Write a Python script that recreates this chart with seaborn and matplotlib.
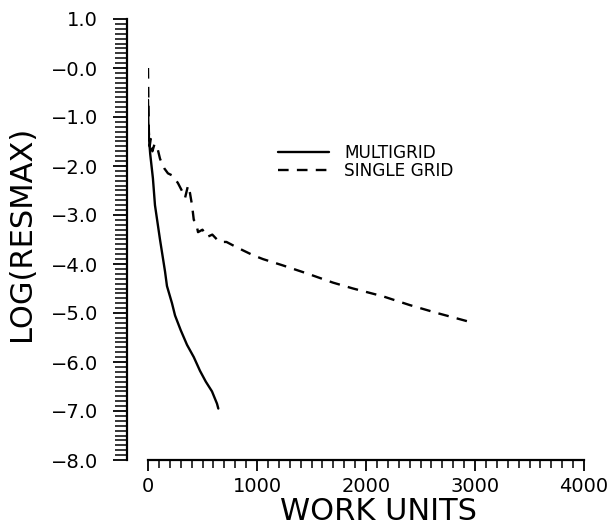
import numpy as np
import pandas as pd
import matplotlib
matplotlib.use("Agg")
import matplotlib.pyplot as plt
from matplotlib.ticker import MultipleLocator
import seaborn as sns

# ---- data ----
mg_work = [0, 3, 8, 20, 45, 64, 110, 156, 174, 220, 248, 300, 358, 420, 477, 530, 587, 633, 645]
mg_log = [-0.65, -1.1, -1.4, -1.75, -2.25, -2.8, -3.5, -4.15, -4.45, -4.8, -5.05, -5.35,
          -5.65, -5.9, -6.18, -6.4, -6.6, -6.85, -6.95]

sg_work = [0, 3, 8, 15, 25, 40, 60, 83, 110, 128, 150, 183, 229, 275, 310, 340, 367, 385,
           404, 420, 440, 459, 500, 541, 590, 633, 661, 720, 780, 870, 963, 1055, 1239,
           1468, 1697, 1881, 2156, 2404, 2651, 2850, 2982]
sg_log = [0.0, -0.6, -1.3, -1.6, -1.45, -1.7, -1.55, -1.6, -1.85, -1.95, -2.05, -2.15, -2.2,
          -2.35, -2.5, -2.65, -2.4, -2.55, -2.8, -3.1, -3.15, -3.35, -3.3, -3.45, -3.4, -3.5,
          -3.55, -3.55, -3.62, -3.72, -3.82, -3.9, -4.03, -4.2, -4.38, -4.5, -4.66, -4.84,
          -5.0, -5.12, -5.2]

series_names = ["MULTIGRID", "SINGLE GRID"]
xticks = [0, 1000, 2000, 3000, 4000]
xtick_labels = ["0", "1000", "2000", "3000", "4000"]
yticks = [1.0, 0.0, -1.0, -2.0, -3.0, -4.0, -5.0, -6.0, -7.0, -8.0]
ytick_labels = ["1.0", "\u22120.0", "\u22121.0", "\u22122.0", "\u22123.0", "\u22124.0",
                "\u22125.0", "\u22126.0", "\u22127.0", "\u22128.0"]

df = pd.concat([
    pd.DataFrame({"work": mg_work, "log": mg_log, "method": series_names[0]}),
    pd.DataFrame({"work": sg_work, "log": sg_log, "method": series_names[1]}),
], ignore_index=True)

sns.set_style("ticks")
plt.rcParams["font.family"] = ["DejaVu Sans"]

W, H = 611, 528
fig = plt.figure(figsize=(W / 100, H / 100), dpi=100)
ax = fig.add_axes([148 / W, (H - 460) / H, (584 - 148) / W, (460 - 19) / H])

sns.lineplot(data=df, x="work", y="log", style="method", hue="method",
             palette={series_names[0]: "black", series_names[1]: "black"},
             dashes={series_names[0]: "", series_names[1]: (4.5, 3.5)},
             estimator=None, sort=False, linewidth=1.7, ax=ax)

ax.set_xlim(0, 4000)
ax.set_ylim(-8.0, 1.0)
ax.set_xticks(xticks, labels=xtick_labels)
ax.set_yticks(yticks, labels=ytick_labels)
ax.xaxis.set_minor_locator(MultipleLocator(100))
ax.yaxis.set_minor_locator(MultipleLocator(0.1))

for s in ["top", "right"]:
    ax.spines[s].set_visible(False)
for s in ["left", "bottom"]:
    ax.spines[s].set_linewidth(1.6)
    ax.spines[s].set_color("black")
ax.spines["left"].set_position(("outward", 21 * 0.72))

ax.tick_params(axis="y", which="major", direction="out", length=10, width=1.3,
               pad=11, labelsize=14, colors="black")
ax.tick_params(axis="y", which="minor", direction="out", length=9, width=1.1, colors="black")
ax.tick_params(axis="x", which="major", direction="out", length=8, width=1.3,
               pad=4, labelsize=14, colors="black")
ax.tick_params(axis="x", which="minor", direction="out", length=6, width=1.1, colors="black")

ax.set_xlabel("WORK UNITS", fontsize=22, color="black")
ax.set_ylabel("LOG(RESMAX)", fontsize=22, color="black")
ax.xaxis.set_label_coords((378 - 148) / 436, -(511 - 460) / 441)
ax.yaxis.set_label_coords((22 - 148) / 436, 0.515)
ax.xaxis.label.set_va("center")
ax.yaxis.label.set_va("center")

ax.legend(loc="upper left", bbox_to_anchor=(278 / W, 1 - 144 / H),
          bbox_transform=fig.transFigure, frameon=False, fontsize=12.2,
          handlelength=3.0, handletextpad=0.9, labelspacing=0.0,
          borderpad=0, borderaxespad=0, title=None, labelcolor="black")

fig.savefig("out.png", dpi=100, facecolor="white")
